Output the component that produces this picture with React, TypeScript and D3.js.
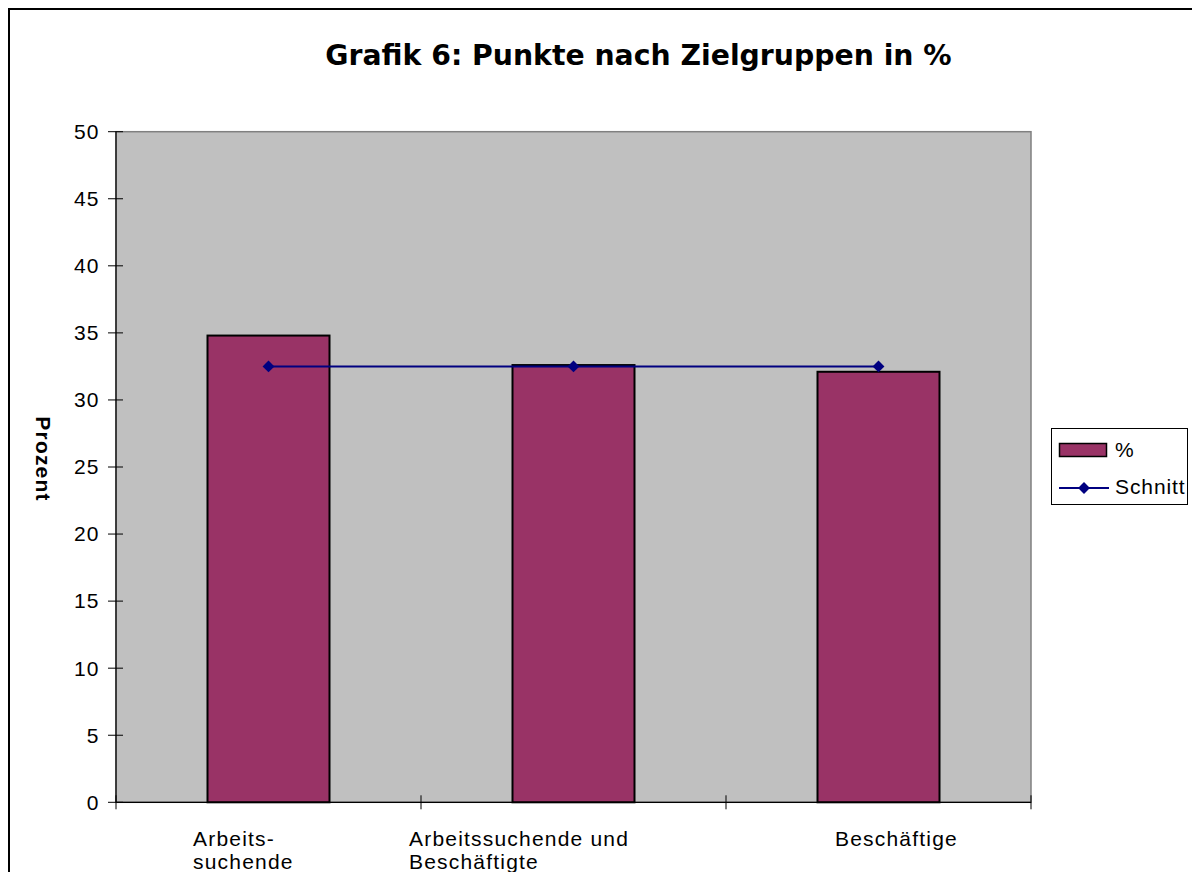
import React from "react";
import * as d3 from "d3";

const categories: string[][] = [["Arbeits-", "suchende"], ["Arbeitssuchende und", "Beschäftigte"], ["Beschäftige"]];
const categoryKeys = ["Arbeitssuchende", "Arbeitssuchende und Beschäftigte", "Beschäftige"];
const percentValues = [34.8, 32.6, 32.1];
const schnittValues = [32.5, 32.5, 32.5];
const yTicks = [0, 5, 10, 15, 20, 25, 30, 35, 40, 45, 50];
const title = "Grafik 6: Punkte nach Zielgruppen in %";
const yAxisTitle = "Prozent";
const legendLabels = ["%", "Schnitt"];

const W = 1192;
const H = 872;
const plotLeft = 116;
const plotRight = 1031;
const plotTop = 131.7;
const plotBottom = 802.3;
// left offset of each wrapped label block relative to band center
const labelOffsets = [-75.5, -164.5, -43.5];

export default function App() {
  const x = d3.scaleBand<string>().domain(categoryKeys).range([plotLeft, plotRight]).padding(0);
  const y = d3.scaleLinear().domain([0, 50]).range([plotBottom, plotTop]);
  const bw = x.bandwidth() * 0.4;
  const cx = (k: string) => (x(k) as number) + x.bandwidth() / 2;
  const line = d3
    .line<number>()
    .x((_, i) => cx(categoryKeys[i]))
    .y((d) => y(d));
  const diamond = d3.symbol().type(d3.symbolDiamond2).size(90)();
  const font = "'Liberation Sans', Arial, sans-serif";
  const fs = 21;
  const ls = 1.2;
  const boundaries = [...categoryKeys.map((k) => x(k) as number), plotRight];

  return (
    <svg
      width={W}
      height={H}
      style={{ position: "absolute", left: 0, top: 0, display: "block", background: "#fff" }}
    >
      <rect x={9} y={9} width={3000} height={3000} fill="#fff" stroke="#000" strokeWidth={2} />
      <text
        x={638.5}
        y={65}
        textAnchor="middle"
        fontFamily="'DejaVu Sans', Verdana, sans-serif"
        fontWeight="bold"
        fontSize={28.3}
      >
        {title}
      </text>
      {/* plot area */}
      <rect
        x={plotLeft}
        y={plotTop}
        width={plotRight - plotLeft}
        height={plotBottom - plotTop}
        fill="#c0c0c0"
        stroke="#808080"
        strokeWidth={1.5}
      />
      {/* bars */}
      {percentValues.map((v, i) => (
        <rect
          key={i}
          x={cx(categoryKeys[i]) - bw / 2}
          y={y(v)}
          width={bw}
          height={y(0) - y(v)}
          fill="#993366"
          stroke="#000"
          strokeWidth={2}
        />
      ))}
      {/* axes */}
      <line x1={plotLeft} x2={plotLeft} y1={plotTop} y2={plotBottom} stroke="#000" strokeWidth={1.2} />
      <line x1={plotLeft} x2={plotRight} y1={plotBottom} y2={plotBottom} stroke="#000" strokeWidth={1.2} />
      {yTicks.map((t) => (
        <g key={t}>
          <line x1={plotLeft - 8} x2={plotLeft + 7} y1={y(t)} y2={y(t)} stroke="#000" strokeWidth={1} />
          <text
            x={98.5 + ls}
            y={y(t)}
            dy="0.35em"
            textAnchor="end"
            fontFamily={font}
            fontSize={fs}
            letterSpacing={ls}
          >
            {t}
          </text>
        </g>
      ))}
      {boundaries.map((b, i) => (
        <line key={i} x1={b} x2={b} y1={plotBottom - 7} y2={plotBottom + 7} stroke="#000" strokeWidth={1} />
      ))}
      {categories.map((lines, i) => (
        <text key={i} textAnchor="start" fontFamily={font} fontSize={fs} letterSpacing={ls}>
          {lines.map((l, j) => (
            <tspan key={j} x={cx(categoryKeys[i]) + labelOffsets[i]} y={846 + j * 22.5}>
              {l}
            </tspan>
          ))}
        </text>
      ))}
      <text
        transform={`translate(36,459) rotate(90)`}
        textAnchor="middle"
        fontFamily={font}
        fontWeight="bold"
        fontSize={fs}
        letterSpacing={ls}
      >
        {yAxisTitle}
      </text>
      {/* line series */}
      <path d={line(schnittValues) || ""} fill="none" stroke="#000080" strokeWidth={2} />
      {schnittValues.map((v, i) => (
        <path key={i} d={diamond || ""} transform={`translate(${cx(categoryKeys[i])},${y(v)})`} fill="#000080" />
      ))}
      {/* legend */}
      <rect x={1051.5} y={428.5} width={136} height={76} fill="#fff" stroke="#000" strokeWidth={1} />
      <rect x={1059.5} y={443.5} width={47} height={13} fill="#993366" stroke="#000" strokeWidth={1.5} />
      <text x={1115} y={450} dy="0.35em" fontFamily={font} fontSize={fs} letterSpacing={0.9}>
        {legendLabels[0]}
      </text>
      <line x1={1059} x2={1109} y1={488} y2={488} stroke="#000080" strokeWidth={2} />
      <path d={diamond || ""} transform="translate(1084,488)" fill="#000080" />
      <text x={1115} y={487} dy="0.35em" fontFamily={font} fontSize={fs} letterSpacing={0.9}>
        {legendLabels[1]}
      </text>
    </svg>
  );
}
